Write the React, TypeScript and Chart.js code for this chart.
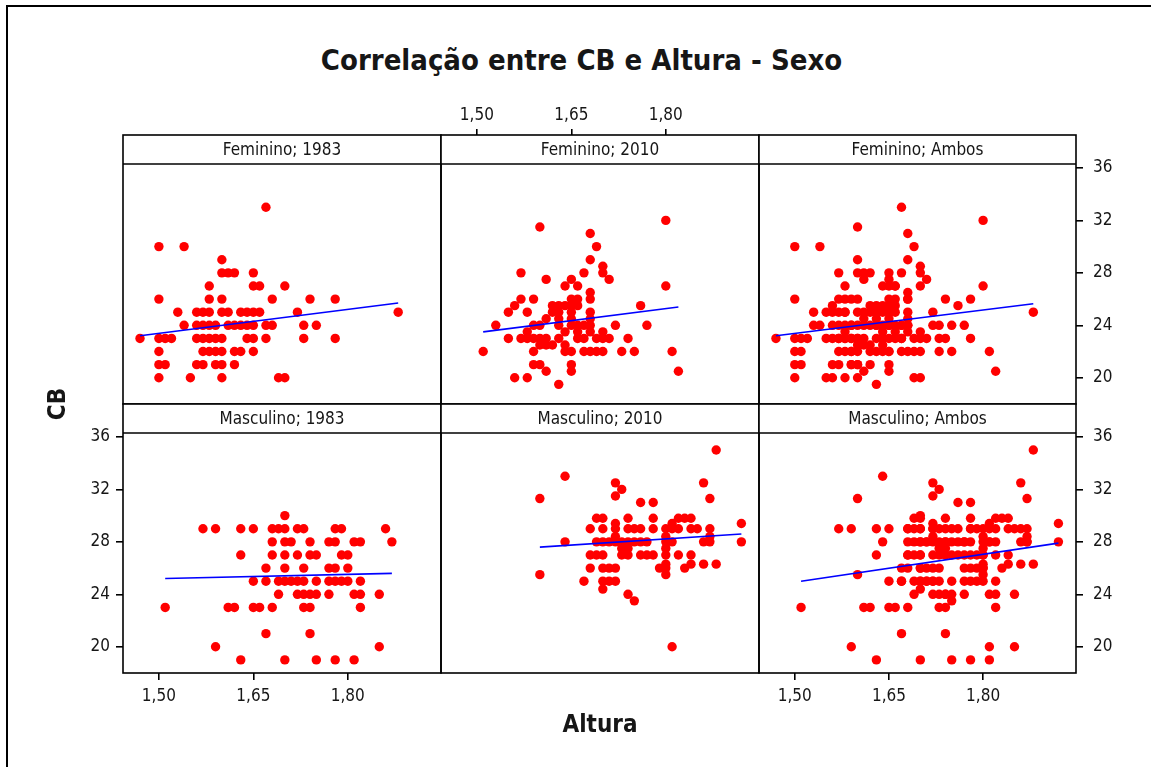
import React, { useEffect, useRef } from "react";
import { Chart, registerables } from "chart.js";

Chart.register(...registerables);

// ---------- data ----------
const xTickValues = [1.5, 1.65, 1.8];
const xTickLabels = ["1,50", "1,65", "1,80"];
const yTickValues = [20, 24, 28, 32, 36];
const yTickLabels = ["20", "24", "28", "32", "36"];

const panelLabels = [
  "Feminino; 1983",
  "Feminino; 2010",
  "Feminino; Ambos",
  "Masculino; 1983",
  "Masculino; 2010",
  "Masculino; Ambos",
];

const fem1983: [number, number][] = [
  [1.67, 33],
  [1.5, 30], [1.54, 30],
  [1.6, 29],
  [1.6, 28], [1.61, 28], [1.62, 28], [1.65, 28],
  [1.58, 27], [1.65, 27], [1.66, 27], [1.7, 27],
  [1.5, 26], [1.58, 26], [1.6, 26], [1.68, 26], [1.74, 26], [1.78, 26],
  [1.53, 25], [1.56, 25], [1.57, 25], [1.58, 25], [1.6, 25], [1.61, 25], [1.63, 25], [1.64, 25], [1.65, 25], [1.66, 25], [1.72, 25], [1.88, 25],
  [1.54, 24], [1.56, 24], [1.57, 24], [1.58, 24], [1.59, 24], [1.61, 24], [1.62, 24], [1.63, 24], [1.64, 24], [1.65, 24], [1.67, 24], [1.68, 24], [1.73, 24], [1.75, 24],
  [1.47, 23], [1.5, 23], [1.51, 23], [1.52, 23], [1.56, 23], [1.57, 23], [1.58, 23], [1.59, 23], [1.6, 23], [1.64, 23], [1.65, 23], [1.67, 23], [1.73, 23], [1.78, 23],
  [1.5, 22], [1.57, 22], [1.58, 22], [1.59, 22], [1.6, 22], [1.62, 22], [1.63, 22], [1.65, 22],
  [1.5, 21], [1.51, 21], [1.56, 21], [1.57, 21], [1.59, 21], [1.6, 21], [1.62, 21],
  [1.5, 20], [1.55, 20], [1.6, 20], [1.69, 20], [1.7, 20],
];

const fem2010: [number, number][] = [
  [1.8, 32], [1.6, 31.5], [1.68, 31], [1.69, 30], [1.68, 29], [1.7, 28.5], [1.7, 28], [1.71, 27.5], [1.67, 28], [1.57, 28],
  [1.61, 27.5], [1.65, 27.5], [1.64, 27], [1.66, 27], [1.8, 27], [1.68, 26.5], [1.68, 26], [1.57, 26], [1.59, 26], [1.65, 26], [1.66, 26],
  [1.56, 25.5], [1.62, 25.5], [1.63, 25.5], [1.64, 25.5], [1.65, 25.5], [1.66, 25.5], [1.76, 25.5],
  [1.55, 25], [1.58, 25], [1.62, 25], [1.63, 25], [1.65, 25], [1.68, 25],
  [1.61, 24.5], [1.63, 24.5], [1.65, 24.5], [1.68, 24.5],
  [1.53, 24], [1.59, 24], [1.6, 24], [1.63, 24], [1.65, 24], [1.66, 24], [1.67, 24], [1.68, 24], [1.72, 24], [1.77, 24],
  [1.58, 23.5], [1.64, 23.5], [1.66, 23.5], [1.68, 23.5], [1.7, 23.5],
  [1.55, 23], [1.57, 23], [1.58, 23], [1.59, 23], [1.6, 23], [1.61, 23], [1.63, 23], [1.66, 23], [1.67, 23], [1.69, 23], [1.7, 23], [1.71, 23], [1.74, 23],
  [1.6, 22.5], [1.61, 22.5], [1.62, 22.5], [1.64, 22.5],
  [1.51, 22], [1.59, 22], [1.64, 22], [1.65, 22], [1.67, 22], [1.68, 22], [1.69, 22], [1.7, 22], [1.73, 22], [1.75, 22], [1.81, 22],
  [1.59, 21], [1.6, 21], [1.65, 21], [1.61, 20.5], [1.65, 20.5], [1.82, 20.5], [1.56, 20], [1.58, 20], [1.63, 19.5],
];

const masc1983: [number, number][] = [
  [1.7, 30],
  [1.57, 29], [1.59, 29], [1.63, 29], [1.65, 29], [1.68, 29], [1.69, 29], [1.7, 29], [1.72, 29], [1.73, 29], [1.78, 29], [1.79, 29], [1.86, 29],
  [1.68, 28], [1.7, 28], [1.71, 28], [1.74, 28], [1.77, 28], [1.78, 28], [1.81, 28], [1.82, 28], [1.87, 28],
  [1.63, 27], [1.68, 27], [1.7, 27], [1.72, 27], [1.74, 27], [1.75, 27], [1.79, 27], [1.8, 27],
  [1.67, 26], [1.7, 26], [1.73, 26], [1.77, 26], [1.78, 26], [1.8, 26],
  [1.65, 25], [1.67, 25], [1.69, 25], [1.7, 25], [1.71, 25], [1.72, 25], [1.73, 25], [1.75, 25], [1.77, 25], [1.78, 25], [1.79, 25], [1.8, 25], [1.82, 25],
  [1.69, 24], [1.72, 24], [1.73, 24], [1.74, 24], [1.75, 24], [1.77, 24], [1.81, 24], [1.82, 24], [1.85, 24],
  [1.51, 23], [1.61, 23], [1.62, 23], [1.65, 23], [1.66, 23], [1.68, 23], [1.73, 23], [1.74, 23], [1.82, 23],
  [1.67, 21], [1.74, 21],
  [1.59, 20], [1.85, 20],
  [1.63, 19], [1.7, 19], [1.75, 19], [1.78, 19], [1.81, 19],
];

const masc2010: [number, number][] = [
  [1.88, 35], [1.64, 33], [1.72, 32.5], [1.86, 32.5], [1.73, 32], [1.72, 31.5], [1.6, 31.3], [1.87, 31.3], [1.76, 31], [1.78, 31],
  [1.69, 29.8], [1.7, 29.8], [1.74, 29.8], [1.78, 29.8], [1.82, 29.8], [1.83, 29.8], [1.84, 29.8],
  [1.72, 29.4], [1.81, 29.4], [1.92, 29.4],
  [1.68, 29], [1.7, 29], [1.72, 29], [1.74, 29], [1.75, 29], [1.76, 29], [1.78, 29], [1.8, 29], [1.81, 29], [1.82, 29], [1.84, 29], [1.85, 29], [1.87, 29],
  [1.72, 28.4], [1.8, 28.4], [1.87, 28.4],
  [1.64, 28], [1.69, 28], [1.7, 28], [1.71, 28], [1.72, 28], [1.73, 28], [1.74, 28], [1.75, 28], [1.76, 28], [1.77, 28], [1.8, 28], [1.81, 28], [1.86, 28], [1.87, 28], [1.92, 28],
  [1.73, 27.5], [1.74, 27.5], [1.8, 27.5],
  [1.68, 27], [1.69, 27], [1.7, 27], [1.73, 27], [1.74, 27], [1.76, 27], [1.77, 27], [1.78, 27], [1.8, 27], [1.82, 27], [1.84, 27],
  [1.8, 26.3], [1.84, 26.3], [1.86, 26.3], [1.88, 26.3],
  [1.68, 26], [1.7, 26], [1.71, 26], [1.72, 26], [1.79, 26], [1.8, 26], [1.83, 26],
  [1.6, 25.5], [1.8, 25.5],
  [1.67, 25], [1.7, 25], [1.71, 25], [1.72, 25],
  [1.7, 24.4], [1.74, 24], [1.75, 23.5], [1.81, 20],
];

const femAmbos = [...fem1983, ...fem2010];
const mascAmbos = [...masc1983, ...masc2010];

// regression lines (start, end)
const fitFem1983: [number, number][] = [[1.47, 23.2], [1.88, 25.7]];
const fitFem2010: [number, number][] = [[1.51, 23.5], [1.82, 25.4]];
const fitFemAmbos: [number, number][] = [[1.47, 23.2], [1.88, 25.65]];
const fitMasc1983: [number, number][] = [[1.51, 25.2], [1.87, 25.6]];
const fitMasc2010: [number, number][] = [[1.6, 27.6], [1.92, 28.6]];
const fitMascAmbos: [number, number][] = [[1.51, 25.0], [1.92, 27.9]];

const xMin = 1.443;
const xMax = 1.948;
const yMin = 18;
const yMax = 36.3;

// ---------- layout ----------
const W = 1151;
const H = 767;
const colLeft = [123, 441, 759];
const colRight = [441, 759, 1076];
const rowTop = [164, 433];
const rowBottom = [404, 673];
const STRIP = 29;
const AX_BOTTOM_H = 40;
const AX_TOP_H = 60;
const AX_LEFT_W = 50;
const AX_RIGHT_W = 60;
const FONT = '"DejaVu Sans Condensed", "DejaVu Sans", sans-serif';
const TEXT_COLOR = "#161616";

type PanelSpec = {
  label: string;
  points: [number, number][];
  fit: [number, number][];
  col: number;
  row: number;
  xAxis: "none" | "top" | "bottom";
  yAxis: "none" | "left" | "right";
};

const panels: PanelSpec[] = [
  { label: panelLabels[0], points: fem1983, fit: fitFem1983, col: 0, row: 0, xAxis: "none", yAxis: "none" },
  { label: panelLabels[1], points: fem2010, fit: fitFem2010, col: 1, row: 0, xAxis: "top", yAxis: "none" },
  { label: panelLabels[2], points: femAmbos, fit: fitFemAmbos, col: 2, row: 0, xAxis: "none", yAxis: "right" },
  { label: panelLabels[3], points: masc1983, fit: fitMasc1983, col: 0, row: 1, xAxis: "bottom", yAxis: "left" },
  { label: panelLabels[4], points: masc2010, fit: fitMasc2010, col: 1, row: 1, xAxis: "none", yAxis: "none" },
  { label: panelLabels[5], points: mascAmbos, fit: fitMascAmbos, col: 2, row: 1, xAxis: "bottom", yAxis: "right" },
];

function stripPlugin(label: string) {
  return {
    id: "strip",
    afterDraw(chart: any) {
      const { ctx, chartArea: a } = chart;
      ctx.save();
      ctx.fillStyle = "#ffffff";
      ctx.fillRect(a.left, a.top - STRIP, a.right - a.left, STRIP);
      ctx.strokeStyle = "#000000";
      ctx.lineWidth = 1.6;
      ctx.strokeRect(a.left, a.top - STRIP, a.right - a.left, a.bottom - a.top + STRIP);
      ctx.beginPath();
      ctx.moveTo(a.left, a.top);
      ctx.lineTo(a.right, a.top);
      ctx.stroke();
      ctx.fillStyle = TEXT_COLOR;
      ctx.font = `17px ${FONT}`;
      ctx.textAlign = "center";
      ctx.textBaseline = "middle";
      ctx.fillText(label, (a.left + a.right) / 2, a.top - STRIP / 2 + 1);
      ctx.restore();
    },
  };
}

function Panel({ spec }: { spec: PanelSpec }) {
  const ref = useRef<HTMLCanvasElement | null>(null);
  useEffect(() => {
    if (!ref.current) return;
    const L = colLeft[spec.col];
    const R = colRight[spec.col];
    const T = rowTop[spec.row];
    const B = rowBottom[spec.row];
    const padding = {
      left: L - (spec.yAxis === "left" ? AX_LEFT_W : 0),
      right: W - R - (spec.yAxis === "right" ? AX_RIGHT_W : 0),
      top: T - (spec.xAxis === "top" ? AX_TOP_H : 0),
      bottom: H - B - (spec.xAxis === "bottom" ? AX_BOTTOM_H : 0),
    };
    const tickFont = { family: FONT, size: 17 };
    const xShown = spec.xAxis !== "none";
    const yShown = spec.yAxis !== "none";
    const chart = new Chart(ref.current, {
      type: "scatter",
      data: {
        datasets: [
          {
            type: "line",
            data: spec.fit.map(([x, y]) => ({ x, y })),
            borderColor: "#0000ff",
            borderWidth: 1.6,
            pointRadius: 0,
            fill: false,
            order: 0,
          } as any,
          {
            type: "scatter",
            data: spec.points.map(([x, y]) => ({ x, y })),
            backgroundColor: "#ff0000",
            borderWidth: 0,
            pointRadius: 4.7,
            order: 1,
          } as any,
        ],
      },
      options: {
        responsive: false,
        animation: false,
        devicePixelRatio: 1,
        events: [],
        layout: { padding, autoPadding: false } as any,
        plugins: {
          legend: { display: false },
          tooltip: { enabled: false },
          title: { display: false },
        },
        scales: {
          x: {
            type: "linear",
            min: xMin,
            max: xMax,
            display: xShown,
            position: spec.xAxis === "top" ? "top" : "bottom",
            afterBuildTicks: (s: any) => {
              s.ticks = xTickValues.map((v) => ({ value: v }));
            },
            afterFit: (s: any) => {
              s.height = !xShown ? 0 : spec.xAxis === "top" ? AX_TOP_H : AX_BOTTOM_H;
            },
            ticks: {
              autoSkip: false,
              maxRotation: 0,
              color: TEXT_COLOR,
              font: tickFont,
              padding: spec.xAxis === "top" ? 3 : 6,
              callback: (_v: any, i: number) => xTickLabels[i],
            },
            grid: {
              drawOnChartArea: false,
              drawTicks: true,
              tickLength: spec.xAxis === "top" ? 35 : 7,
              color: "#000000",
              lineWidth: 1.6,
            },
            border: { display: false },
          },
          y: {
            type: "linear",
            min: yMin,
            max: yMax,
            display: yShown,
            position: spec.yAxis === "right" ? "right" : "left",
            afterBuildTicks: (s: any) => {
              s.ticks = yTickValues.map((v) => ({ value: v }));
            },
            afterFit: (s: any) => {
              s.width = !yShown ? 0 : spec.yAxis === "right" ? AX_RIGHT_W : AX_LEFT_W;
            },
            ticks: {
              autoSkip: false,
              color: TEXT_COLOR,
              font: tickFont,
              padding: spec.yAxis === "right" ? 10 : 6,
              callback: (_v: any, i: number) => yTickLabels[i],
            },
            grid: {
              drawOnChartArea: false,
              drawTicks: true,
              tickLength: 7,
              color: "#000000",
              lineWidth: 1.6,
            },
            border: { display: false },
          },
        },
      } as any,
      plugins: [stripPlugin(spec.label)],
    });
    return () => chart.destroy();
  }, [spec]);
  return (
    <canvas
      ref={ref}
      width={W}
      height={H}
      style={{ position: "absolute", left: 0, top: 0, width: W, height: H }}
    />
  );
}

export default function App() {
  return (
    <div
      style={{
        position: "absolute",
        left: 0,
        top: 0,
        width: W,
        height: H,
        background: "#ffffff",
        overflow: "hidden",
        fontFamily: FONT,
        color: TEXT_COLOR,
      }}
    >
      <div
        style={{
          position: "absolute",
          left: 6,
          top: 5,
          width: W + 10,
          height: H + 10,
          borderLeft: "2px solid #000",
          borderTop: "2px solid #000",
        }}
      />
      <div
        style={{
          position: "absolute",
          left: 0,
          width: W + 12,
          top: 40,
          textAlign: "center",
          fontWeight: "bold",
          fontSize: 29,
          lineHeight: "40px",
        }}
      >
        Correlação entre CB e Altura - Sexo
      </div>
      {panels.map((p) => (
        <Panel key={p.label} spec={p} />
      ))}
      <div
        style={{
          position: "absolute",
          left: 500,
          width: 200,
          top: 708,
          textAlign: "center",
          fontWeight: "bold",
          fontSize: 24,
          lineHeight: "32px",
        }}
      >
        Altura
      </div>
      <div
        style={{
          position: "absolute",
          left: 57 - 40,
          top: 404 - 16,
          width: 80,
          height: 32,
          lineHeight: "32px",
          textAlign: "center",
          fontWeight: "bold",
          fontSize: 24,
          transform: "rotate(-90deg)",
        }}
      >
        CB
      </div>
    </div>
  );
}
